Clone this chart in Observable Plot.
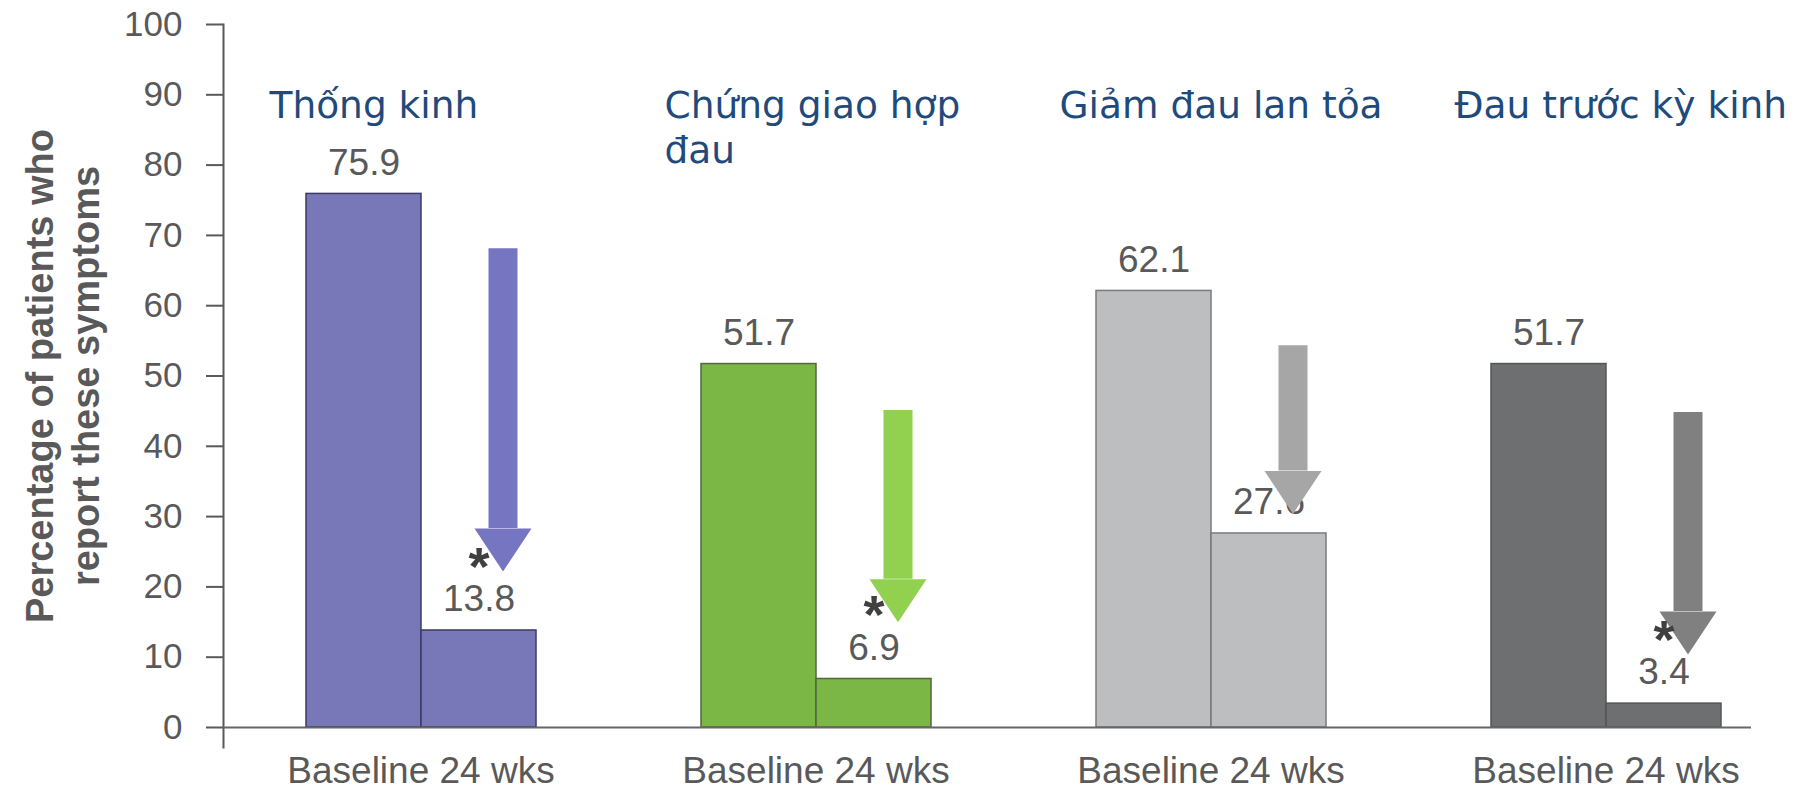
<!DOCTYPE html>
<html><head><meta charset="utf-8">
<script src="https://cdn.jsdelivr.net/npm/d3@7"></script>
<script src="https://cdn.jsdelivr.net/npm/@observablehq/plot@0.6"></script>
<style>html,body{margin:0;padding:0;background:#fff;}</style>
</head><body><div id="chart"></div>
<script>
// ---- data ----
const groups = ["Thống kinh", "Chứng giao hợp\nđau", "Giảm đau lan tỏa", "Đau trước kỳ kinh"];
const periods = ["Baseline", "24 wks"];
const baseline = [75.9, 51.7, 62.1, 51.7];
const week24 = [13.8, 6.9, 27.6, 3.4];
const significant = [true, true, false, true];
const arrowTop = [68.1, 45.1, 54.3, 44.8];
const arrowHeadBase = [28.3, 21.1, 36.5, 16.5];
const yTicks = [0, 10, 20, 30, 40, 50, 60, 70, 80, 90, 100];
const yTitle = "Percentage of patients who\nreport these symptoms";

// ---- styles ----
const barFill = ["#7878b8", "#7ab744", "#bdbec0", "#6e6f71"];
const barStroke = ["#3a3a68", "#56663f", "#7a7a7a", "#555657"];
const arrowFill = ["#7575c2", "#92d050", "#a6a6a6", "#808080"];

const rows = groups.flatMap((g, i) => [
  {group: g, gi: i, period: periods[0], value: baseline[i]},
  {group: g, gi: i, period: periods[1], value: week24[i]}
]);
const starRows = rows.filter(d => d.period === periods[1] && significant[d.gi]);
const arrows = groups.map((g, i) => ({group: g, top: arrowTop[i], headBase: arrowHeadBase[i], color: arrowFill[i]}));

const headSymbol = {
  draw(ctx) { ctx.moveTo(-28.5, 0); ctx.lineTo(28.5, 0); ctx.lineTo(0, 43); ctx.closePath(); }
};

const chart = Plot.plot({
  width: 1804, height: 789,
  marginLeft: 222, marginRight: 0, marginTop: 24, marginBottom: 62,
  style: {fontFamily: "'Liberation Sans', Arial, sans-serif", color: "#595959", background: "#fff", overflow: "visible"},
  fx: {domain: groups, padding: 0, axis: null},
  x: {domain: periods, paddingInner: 0, paddingOuter: 0.705, axis: null},
  y: {domain: [0, 100], axis: null},
  color: {type: "identity"},
  marks: [
    Plot.frame({anchor: "left", facetAnchor: "left", stroke: "#595959", strokeWidth: 2, insetBottom: -20}),
    Plot.axisY({ticks: yTicks, tickSize: 17, tickPadding: 24, fontSize: 35, strokeWidth: 2, label: null, facetAnchor: "left"}),
    Plot.barY(rows, {fx: "group", x: "period", y: "value", fill: d => barFill[d.gi], stroke: d => barStroke[d.gi], strokeWidth: 1.5}),
    Plot.ruleY(groups.slice(0, -1), {fx: d => d, y: () => 0, stroke: "#666666", strokeWidth: 2}),
    Plot.ruleY(groups.slice(-1), {fx: d => d, y: () => 0, stroke: "#666666", strokeWidth: 2, insetRight: 52}),
    Plot.text(rows, {fx: "group", x: "period", y: "value", text: d => d.value.toFixed(1), fontSize: 37, lineAnchor: "middle", dy: -31, fill: "#595959"}),
    Plot.ruleX(arrows, {fx: "group", x: () => periods[1], y1: "top", y2: "headBase", stroke: "color", strokeWidth: 29, dx: 24}),
    Plot.dot(arrows, {fx: "group", x: () => periods[1], y: "headBase", symbol: headSymbol, fill: "color", dx: 24}),
    Plot.text(starRows, {fx: "group", x: "period", y: "value", text: () => "*", fontSize: 54, fontWeight: "bold", lineAnchor: "middle", dy: -63, fill: "#404040"}),
    Plot.text(groups, {fx: d => d, frameAnchor: "top-left", text: d => d, textAnchor: "start", lineAnchor: "top", dx: 46, dy: 62, fontSize: 37.5, fontFamily: "'DejaVu Sans', Verdana, sans-serif", fill: "#1f4a7c", lineHeight: 1.2}),
    Plot.text(groups, {fx: d => d, frameAnchor: "bottom", text: () => periods.join(" "), fontSize: 37, lineAnchor: "middle", dy: 44, fill: "#595959"}),
    Plot.text([yTitle], {frameAnchor: "left", facetAnchor: "left", rotate: -90, textAnchor: "middle", lineAnchor: "middle", dx: -162, text: d => d, fontSize: 38, fontWeight: "bold", lineHeight: 1.2, fill: "#595959"})
  ]
});
document.getElementById("chart").appendChild(chart);
</script>
</body></html>
